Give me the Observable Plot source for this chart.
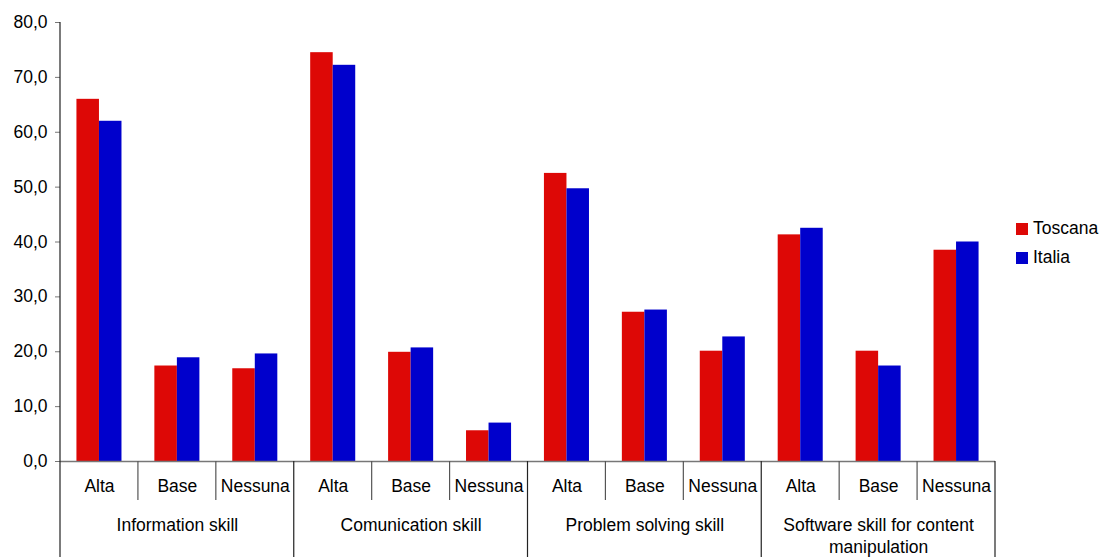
<!DOCTYPE html>
<html><head><meta charset="utf-8">
<script src="https://cdn.jsdelivr.net/npm/d3@7"></script>
<script src="https://cdn.jsdelivr.net/npm/@observablehq/plot@0.6"></script>
<style>
body{margin:0;background:#fff;font-family:"Liberation Sans",Arial,sans-serif}
#wrap{position:relative;width:1102px;height:557px;overflow:hidden}
#legend{position:absolute;left:1016px;top:214px;font-size:17.5px;color:#000}
.item{display:flex;align-items:center;height:29px}
.sw{width:12px;height:12px;margin-right:5px}
</style></head><body><div id="wrap"></div>
<script>
const groups = ["Information skill","Comunication skill","Problem solving skill","Software skill for content manipulation"];
const levels = ["Alta","Base","Nessuna"];
const series = ["Toscana","Italia"];
const colors = ["#dd0806","#0000cc"];
const toscana = [66.0,17.4,16.9, 74.5,19.9,5.6, 52.5,27.2,20.1, 41.3,20.1,38.5];
const italia  = [62.0,18.9,19.6, 72.2,20.7,7.0, 49.7,27.6,22.7, 42.5,17.4,40.0];
const yTicks = [0,10,20,30,40,50,60,70,80];

const cats = [];
groups.forEach(g => levels.forEach(l => cats.push({key: g + "|" + l, group: g, level: l})));
const rows = [];
cats.forEach((c, i) => {
  rows.push({key: c.key, series: series[0], value: toscana[i]});
  rows.push({key: c.key, series: series[1], value: italia[i]});
});
const groupLabels = groups.map(g => ({key: g + "|" + levels[1], text: g}));
const fmt = d => d3.format(".1f")(d).replace(".", ",");

const plot = Plot.plot({
  width: 1102, height: 557,
  marginLeft: 60, marginRight: 107, marginTop: 22, marginBottom: 96,
  style: {fontFamily: '"Liberation Sans", Arial, sans-serif', fontSize: "17.5px", color: "#000", background: "#fff"},
  fx: {domain: cats.map(c => c.key), paddingInner: 0, paddingOuter: 0, round: false, axis: null, label: null},
  x: {domain: series, paddingInner: 0, paddingOuter: 0.73, round: false, axis: null},
  y: {domain: [0, 80], ticks: yTicks, label: null},
  color: {domain: series, range: colors},
  marks: [
    Plot.barY(rows, {fx: "key", x: "series", y: "value", fill: "series"}),
    Plot.ruleY([0], {stroke: "#777", strokeWidth: 1.5}),
    Plot.axisY({ticks: yTicks, tickFormat: fmt, tickSize: 5, tickPadding: 8, stroke: "#777", fill: "#000", fontSize: 17.5, label: null}),
    Plot.text(cats, {fx: "key", text: "level", frameAnchor: "bottom", dy: 30, fontSize: 17.5, fill: "#000"}),
    Plot.text(groupLabels, {fx: "key", text: "text", frameAnchor: "bottom", lineAnchor: "top", dy: 54, fontSize: 17.5, fill: "#000", lineWidth: 14, lineHeight: 1.25})
  ]
});

// divider lines derived from the fx band scale
const fxs = plot.scale("fx");
const ys = plot.scale("y");
const y0 = ys.apply(0), yTop = ys.apply(80);
const keys = fxs.domain;
const svg = d3.select(plot);
const g = svg.append("g");
for (let i = 0; i <= keys.length; i++) {
  const x = i < keys.length ? fxs.apply(keys[i]) : fxs.apply(keys[keys.length - 1]) + fxs.step;
  const isGroup = i % levels.length === 0;
  g.append("line")
    .attr("x1", x).attr("x2", x)
    .attr("y1", i === 0 ? yTop : y0)
    .attr("y2", isGroup ? 557 : y0 + 39)
    .attr("stroke", isGroup ? "#222" : "#555")
    .attr("stroke-width", 1.2);
}

const wrap = document.getElementById("wrap");
wrap.appendChild(plot);
const legend = document.createElement("div");
legend.id = "legend";
series.forEach((s, i) => {
  const it = document.createElement("div");
  it.className = "item";
  it.innerHTML = `<span class="sw" style="background:${colors[i]}"></span><span>${s}</span>`;
  legend.appendChild(it);
});
wrap.appendChild(legend);
</script></body></html>
